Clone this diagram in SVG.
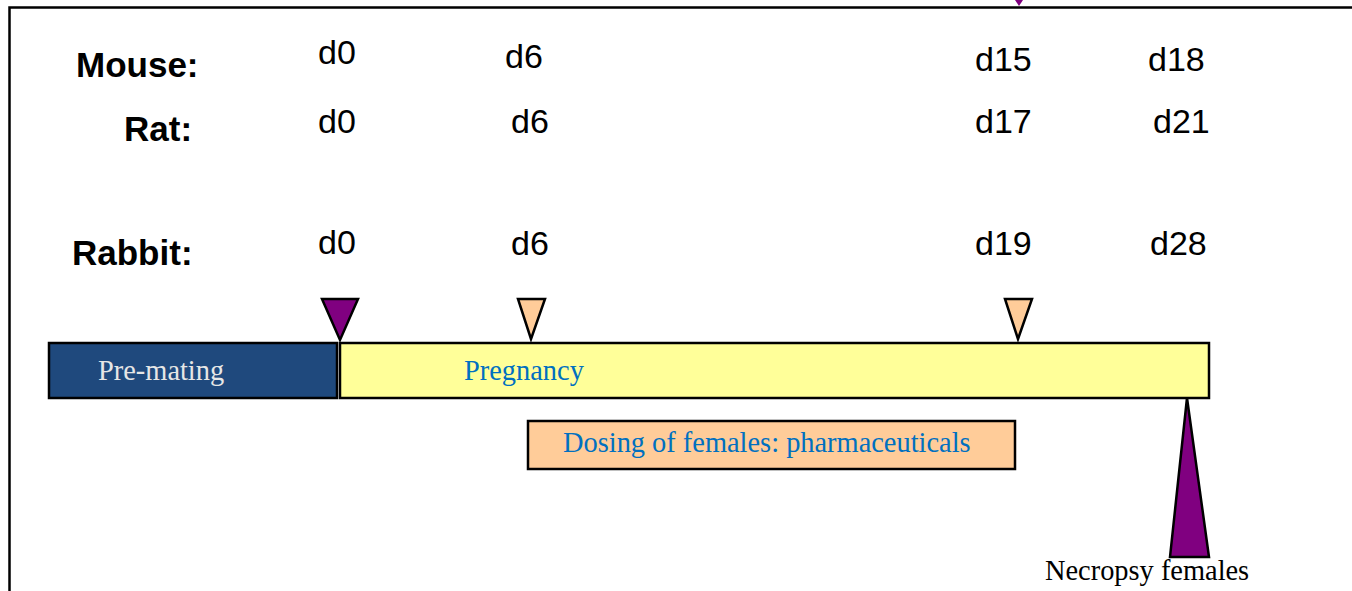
<svg xmlns="http://www.w3.org/2000/svg" width="1352" height="591" viewBox="0 0 1352 591">
  <style>
    .species { font-family: "Liberation Sans", Arial, sans-serif; font-weight: bold; font-size: 35px; fill: #000; }
    .day { font-family: "Liberation Sans", Arial, sans-serif; font-size: 34px; fill: #000; }
    .bar { stroke: #000; stroke-width: 2.5; }
    .serif { font-family: "Liberation Serif", "Times New Roman", serif; font-size: 28.4px; }
    .tri { stroke: #000; stroke-width: 2.5; stroke-linejoin: miter; }
  </style>

  <rect width="1352" height="591" fill="#fff"/>

  <!-- frame -->
  <path d="M9.5 591 V7.5 H1352" fill="none" stroke="#000" stroke-width="2.5"/>
  <polygon points="1015,0 1023,0 1019,6" fill="#800080"/>

  <!-- species labels and gestation days -->
  <g id="row-mouse">
    <text class="species" x="76" y="77">Mouse:</text>
    <text class="day" x="318" y="64">d0</text>
    <text class="day" x="505" y="68">d6</text>
    <text class="day" x="975" y="71">d15</text>
    <text class="day" x="1148" y="71">d18</text>
  </g>
  <g id="row-rat">
    <text class="species" x="124" y="141">Rat:</text>
    <text class="day" x="318" y="133">d0</text>
    <text class="day" x="511" y="133">d6</text>
    <text class="day" x="975" y="133">d17</text>
    <text class="day" x="1153" y="133">d21</text>
  </g>
  <g id="row-rabbit">
    <text class="species" x="72" y="265">Rabbit:</text>
    <text class="day" x="318" y="254">d0</text>
    <text class="day" x="511" y="255">d6</text>
    <text class="day" x="975" y="255">d19</text>
    <text class="day" x="1150" y="255">d28</text>
  </g>

  <!-- timeline bars -->
  <g id="pre-mating">
    <rect class="bar" x="49" y="343" width="288" height="55" fill="#1F497D"/>
    <text class="serif" x="98" y="380" fill="#E6E6E6">Pre-mating</text>
  </g>
  <g id="pregnancy">
    <rect class="bar" x="340" y="343" width="869" height="55" fill="#FFFF99"/>
    <text class="serif" x="464" y="380" fill="#0070C0">Pregnancy</text>
  </g>
  <g id="dosing">
    <rect class="bar" x="528" y="421" width="487" height="48" fill="#FFCC99"/>
    <text class="serif" x="563" y="452" fill="#0070C0">Dosing of females: pharmaceuticals</text>
  </g>

  <!-- event pointers -->
  <g id="connectors">
    <polygon class="tri" points="322,299 358,299 340,340" fill="#800080"/>
    <polygon class="tri" points="518,299 545,299 531,339" fill="#FFCC99"/>
    <polygon class="tri" points="1005,299 1032,299 1018,339" fill="#FFCC99"/>
    <polygon class="tri" points="1187,398 1209,557 1170,557" fill="#800080"/>
  </g>

  <g id="necropsy">
    <text class="serif" x="1045" y="580" fill="#000">Necropsy females</text>
  </g>
</svg>
